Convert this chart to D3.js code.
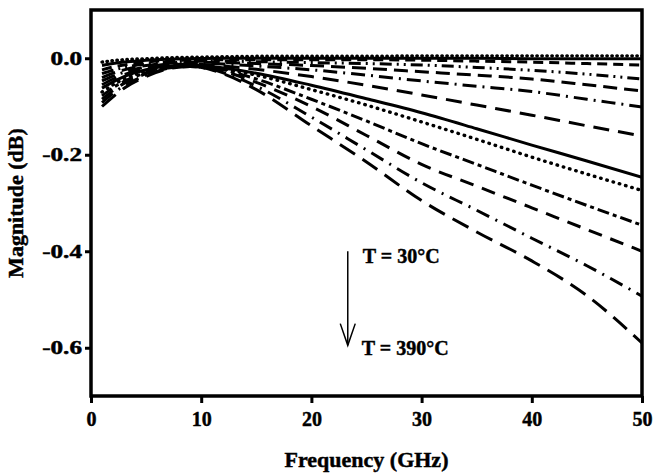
<!DOCTYPE html>
<html>
<head>
<meta charset="utf-8">
<script src="https://cdn.jsdelivr.net/npm/d3@7"></script>
<style>
body { margin: 0; background: #fff; }
text { font-family: "Liberation Serif", "Times New Roman", serif; font-weight: bold; fill: #000; stroke: #000; stroke-width: 0.45px; }
</style>
</head>
<body>
<svg></svg>
<script>
var screen = {width: 653, height: 473};
var margins = {top: 10, right: 11, bottom: 77, left: 91};

// frequency points (GHz) and magnitude (dB) for each temperature
var freqs  = [1, 2, 3, 5, 7, 9, 12, 15, 20, 25, 30, 35, 40, 45, 50];
var temps  = [30, 60, 90, 120, 150, 180, 210, 240, 270, 300, 330, 360, 390];

var mag30  = [-0.008, -0.005, -0.003, -0.001, 0.001, 0.002, 0.003, 0.004, 0.004, 0.004, 0.005, 0.005, 0.005, 0.005, 0.005];
var mag60  = [-0.015, -0.011, -0.008, -0.004, -0.002, -0.001, 0.000, 0.000, 0.000, 0.000, 0.000, 0.000, -0.001, -0.001, -0.001];
var mag90  = [-0.024, -0.018, -0.014, -0.008, -0.005, -0.004, -0.003, -0.003, -0.003, -0.003, -0.004, -0.006, -0.008, -0.011, -0.014];
var mag120 = [-0.032, -0.025, -0.019, -0.012, -0.008, -0.006, -0.006, -0.007, -0.009, -0.011, -0.014, -0.019, -0.025, -0.033, -0.043];
var mag150 = [-0.040, -0.031, -0.024, -0.015, -0.010, -0.008, -0.009, -0.011, -0.015, -0.021, -0.028, -0.035, -0.043, -0.055, -0.068];
var mag180 = [-0.047, -0.037, -0.029, -0.018, -0.012, -0.010, -0.012, -0.016, -0.024, -0.035, -0.047, -0.058, -0.069, -0.085, -0.101];
var mag210 = [-0.055, -0.043, -0.034, -0.021, -0.014, -0.012, -0.016, -0.023, -0.038, -0.056, -0.076, -0.097, -0.118, -0.140, -0.161];
var mag240 = [-0.062, -0.049, -0.038, -0.024, -0.016, -0.014, -0.020, -0.031, -0.056, -0.084, -0.113, -0.146, -0.180, -0.213, -0.247];
var mag270 = [-0.070, -0.055, -0.043, -0.027, -0.017, -0.015, -0.022, -0.035, -0.065, -0.097, -0.132, -0.168, -0.205, -0.240, -0.274];
var mag300 = [-0.078, -0.061, -0.048, -0.030, -0.019, -0.016, -0.024, -0.043, -0.085, -0.130, -0.177, -0.220, -0.263, -0.305, -0.346];
var mag330 = [-0.085, -0.067, -0.052, -0.032, -0.020, -0.017, -0.027, -0.050, -0.100, -0.160, -0.220, -0.265, -0.310, -0.355, -0.400];
var mag360 = [-0.092, -0.073, -0.057, -0.035, -0.021, -0.017, -0.030, -0.058, -0.122, -0.190, -0.258, -0.315, -0.373, -0.430, -0.493];
var mag390 = [-0.100, -0.080, -0.062, -0.038, -0.022, -0.017, -0.032, -0.065, -0.140, -0.215, -0.295, -0.360, -0.420, -0.492, -0.590];

var xTicks = [0, 10, 20, 30, 40, 50];
var yTicks = [0.0, -0.2, -0.4, -0.6];

var series = [mag30, mag60, mag90, mag120, mag150, mag180, mag210,
              mag240, mag270, mag300, mag330, mag360, mag390];

// line style for each curve (same order as temps)
var dashes = ["0.5,4.5", null, "10,6", "12,5,2,5,2,5", "14,7", "14,6,2,6", "16,9",
              null, "0.5,6", "12,4,4,4", "14,9", "14,7,2,7", "18,9"];

var width = screen.width - margins.left - margins.right;
var height = screen.height - margins.top - margins.bottom;

var svg = d3.select("svg")
    .attr("width", screen.width)
    .attr("height", screen.height);

var xScale = d3.scaleLinear()
                .domain([0, 50])
                .range([0, width]);

var yScale = d3.scaleLinear()
                .domain([-0.7, 0.1])
                .range([height, 0]);

var graph = svg.append("g")
    .attr("id", "graph")
    .attr("transform", "translate(" + margins.left + "," + margins.top + ")");

graph.append("clipPath")
    .attr("id", "clip")
    .append("rect")
    .attr("width", width)
    .attr("height", height);

var lineGenerator = d3.line()
                        .x(function(d, i){return xScale(freqs[i]);})
                        .y(function(d){return yScale(d);})
                        .curve(d3.curveMonotoneX);

graph.append("g")
    .attr("clip-path", "url(#clip)")
    .selectAll("path")
    .data(series)
    .enter()
    .append("path")
    .attr("fill", "none")
    .attr("stroke", "black")
    .attr("stroke-width", function(d, i){return (i == 0 || i == 8) ? 3.4 : 3;})
    .attr("stroke-linecap", function(d, i){return (i == 0 || i == 8) ? "round" : "butt";})
    .attr("stroke-dasharray", function(d, i){return dashes[i];})
    .attr("d", lineGenerator);

// axes
var xAxis = d3.axisBottom(xScale).tickValues(xTicks).tickSize(7).tickPadding(5)
                .tickFormat(d3.format("d"));
var yAxis = d3.axisLeft(yScale).tickValues(yTicks).tickSize(6).tickPadding(3)
                .tickFormat(d3.format(".1f"));

var gx = graph.append("g")
    .attr("transform", "translate(0," + height + ")")
    .call(xAxis);

var gy = graph.append("g")
    .call(yAxis);

[gx, gy].forEach(function(g)
{
    g.select(".domain").remove();
    g.selectAll("line").attr("stroke", "black").attr("stroke-width", 3);
    g.selectAll("text")
        .style("font-family", "'Liberation Serif', serif")
        .style("font-weight", "bold");
});

gx.selectAll("text").attr("font-size", 20).attr("dy", "0.92em");

gy.selectAll("text")
    .attr("font-size", 18)
    .attr("x", -9 / 1.4)
    .attr("dy", "0.34em")
    .attr("transform", "scale(1.4,1)")
    .text(function(d){return d3.format(".1f")(d).replace("−", "-");});

// frame
graph.append("rect")
    .attr("width", width)
    .attr("height", height)
    .attr("fill", "none")
    .attr("stroke", "black")
    .attr("stroke-width", 3.5);

// axis titles
svg.append("text")
    .attr("x", margins.left + width / 2)
    .attr("y", 467)
    .attr("text-anchor", "middle")
    .attr("font-size", 22)
    .text("Frequency (GHz)");

svg.append("text")
    .attr("transform", "translate(23," + (margins.top + height / 2) + ") rotate(-90)")
    .attr("text-anchor", "middle")
    .attr("font-size", 22)
    .text("Magnitude (dB)");

// temperature arrow annotation
var arrowX = xScale(23.3);
graph.append("line")
    .attr("x1", arrowX).attr("x2", arrowX)
    .attr("y1", yScale(-0.4)).attr("y2", yScale(-0.595))
    .attr("stroke", "black")
    .attr("stroke-width", 1.5);

graph.append("path")
    .attr("d", d3.line()([[arrowX - 7.5, yScale(-0.55)], [arrowX, yScale(-0.595)], [arrowX + 7.5, yScale(-0.55)]]))
    .attr("fill", "none")
    .attr("stroke", "black")
    .attr("stroke-width", 1.5);

graph.append("text")
    .attr("x", arrowX + 15)
    .attr("y", yScale(-0.41) + 7)
    .attr("font-size", 20)
    .text("T = " + temps[0] + "°C");

graph.append("text")
    .attr("x", arrowX + 14)
    .attr("y", yScale(-0.6) + 7)
    .attr("font-size", 20)
    .text("T = " + temps[temps.length - 1] + "°C");
</script>
</body>
</html>
